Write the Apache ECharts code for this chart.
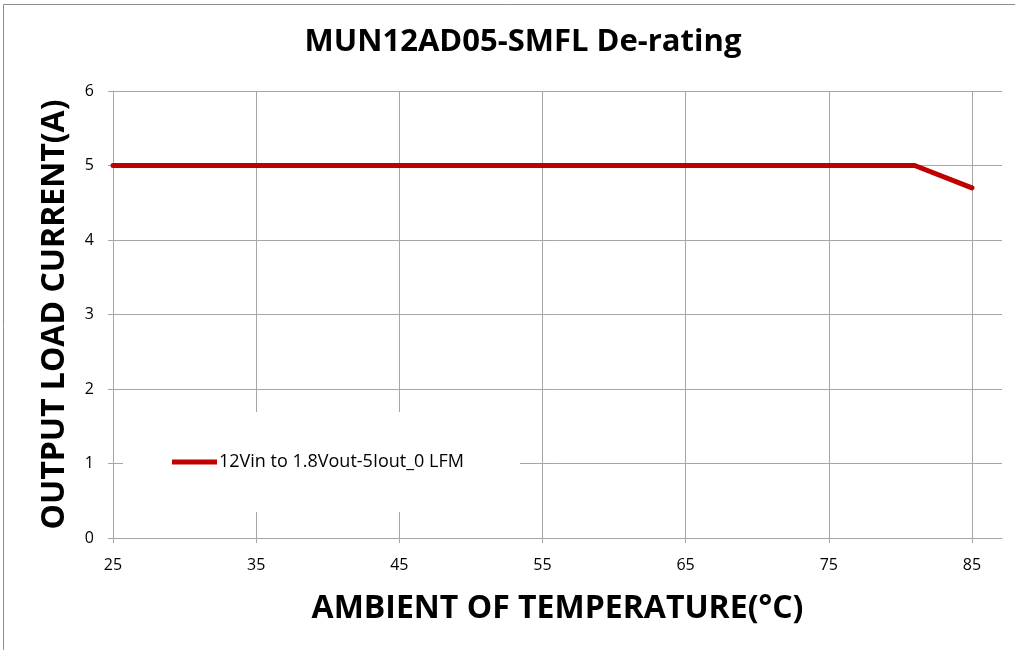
<!DOCTYPE html>
<html>
<head>
<meta charset="utf-8">
<script src="https://cdn.jsdelivr.net/npm/echarts@6/dist/echarts.min.js"></script>
<style>
  html, body { margin: 0; padding: 0; background: #fff; }
  #main { width: 1015px; height: 650px; }
</style>
</head>
<body>
<div id="main"></div>
<script>
// 数据
let temps = [25, 81, 85];
let loads = [5, 5, 4.7];
let seriesName = '12Vin to 1.8Vout-5Iout_0 LFM';

let pairs = temps.map((t, i) => [t, loads[i]]);
let gridColor = '#a6a6a6';

let myChart = echarts.init(document.getElementById('main'));
let option = {
    backgroundColor: '#fff',
    animation: false,
    title: {
        text: 'MUN12AD05-SMFL De-rating',
        left: 518,
        textAlign: 'center',
        top: 22,
        textStyle: {
            fontFamily: 'Open Sans',
            fontWeight: 'bold',
            fontSize: 31,
            color: '#000'
        }
    },
    graphic: [{
        type: 'rect',
        shape: { x: 3.5, y: 4.5, width: 1020, height: 660 },
        style: { fill: 'none', stroke: '#8c8c8c', lineWidth: 1 },
        silent: true
    }],
    legend: {
        left: 123,
        top: 412,
        orient: 'horizontal',
        backgroundColor: '#fff',
        padding: [41, 56, 41, 49],
        itemWidth: 45,
        itemHeight: 5,
        itemGap: 0,
        textStyle: {
            fontFamily: 'Open Sans',
            fontSize: 18,
            color: '#000',
            padding: [0, 0, 0, -3]
        },
        data: [{ name: seriesName, icon: 'rect' }]
    },
    grid: {
        left: 113,
        top: 91,
        right: 13,
        bottom: 112
    },
    xAxis: {
        type: 'value',
        min: 25,
        max: 87.1,
        interval: 10,
        name: 'AMBIENT OF TEMPERATURE(°C)',
        nameLocation: 'middle',
        nameGap: 55,
        nameTextStyle: {
            fontFamily: 'Open Sans',
            fontWeight: 'bold',
            fontSize: 32,
            color: '#000'
        },
        axisLine: { show: true, onZero: false, lineStyle: { color: gridColor, width: 1 } },
        axisTick: { show: true, length: 5, lineStyle: { color: gridColor } },
        axisLabel: {
            showMaxLabel: false,
            margin: 19,
            fontFamily: 'Open Sans',
            fontSize: 16,
            color: '#000'
        },
        splitLine: {
            show: true,
            lineStyle: {
                color: [gridColor, gridColor, gridColor, gridColor, gridColor, gridColor, gridColor, 'rgba(0,0,0,0)'],
                width: 1
            }
        }
    },
    yAxis: {
        type: 'value',
        min: 0,
        max: 6,
        interval: 1,
        name: 'OUTPUT LOAD CURRENT(A)',
        nameLocation: 'middle',
        nameGap: 42,
        nameTextStyle: {
            fontFamily: 'Open Sans',
            fontWeight: 'bold',
            fontSize: 32,
            color: '#000'
        },
        axisLine: { show: true, lineStyle: { color: gridColor, width: 1 } },
        axisTick: { show: true, length: 5, lineStyle: { color: gridColor } },
        axisLabel: {
            margin: 19,
            fontFamily: 'Open Sans',
            fontSize: 16,
            color: '#000'
        },
        splitLine: { show: true, lineStyle: { color: gridColor, width: 1 } }
    },
    series: [{
        name: seriesName,
        type: 'line',
        data: pairs,
        showSymbol: false,
        symbol: 'none',
        color: '#c00000',
        lineStyle: { color: '#c00000', width: 5, cap: 'round', join: 'round' },
        z: 3
    }]
};
myChart.setOption(option);
</script>
</body>
</html>
